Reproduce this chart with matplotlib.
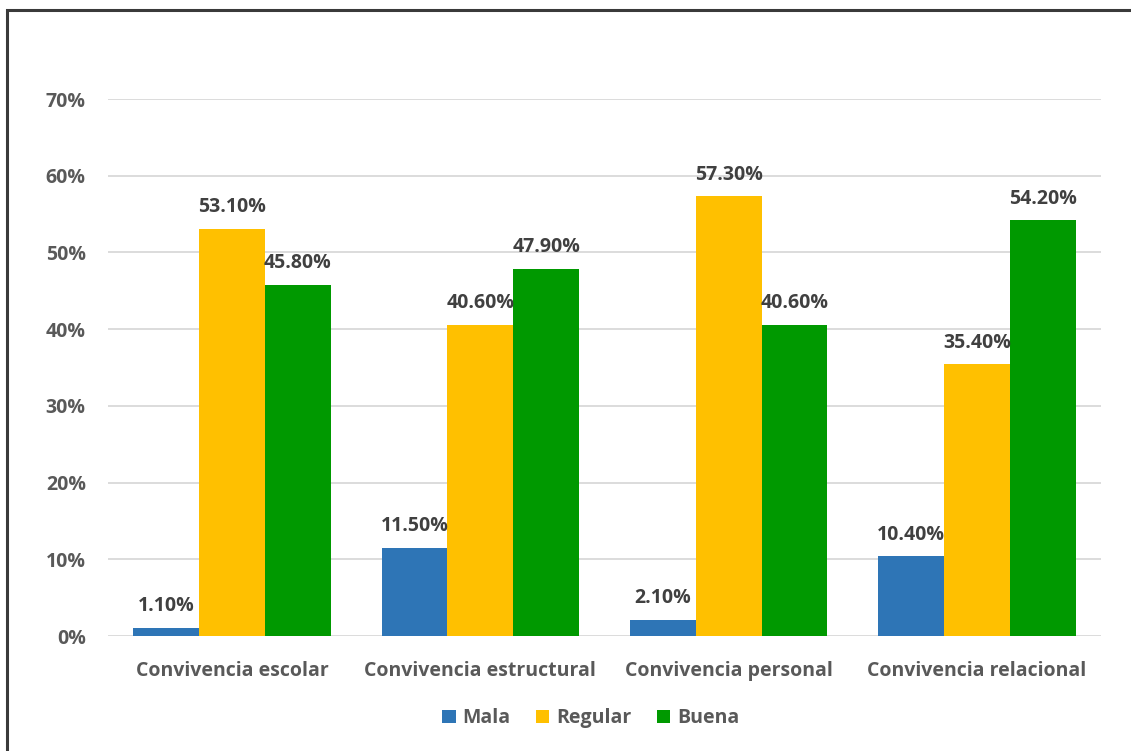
import matplotlib
matplotlib.use("Agg")
import matplotlib.pyplot as plt
import matplotlib.patches as mpatches
from matplotlib.ticker import PercentFormatter
import numpy as np

categories = ["Convivencia escolar", "Convivencia estructural",
              "Convivencia personal", "Convivencia relacional"]
series_names = ["Mala", "Regular", "Buena"]
mala = [1.1, 11.5, 2.1, 10.4]
regular = [53.1, 40.6, 57.3, 35.4]
buena = [45.8, 47.9, 40.6, 54.2]
colors = ["#2E75B6", "#FFC000", "#009900"]

text_color = "#595959"
fsize = 14
plt.rcParams["font.family"] = ["Open Sans", "DejaVu Sans"]
plt.rcParams["font.weight"] = "bold"

fig = plt.figure(figsize=(11.31, 7.51), dpi=100)
ax = fig.add_axes([0.0955, 0.1531, 0.878, 0.715])

# outer chart border (only top and left are visible in the original)
fig.patches.append(mpatches.Rectangle((7 / 1131, -0.1), 1.2, (751 - 10) / 751 + 0.1,
                                      transform=fig.transFigure, fill=False,
                                      edgecolor="#3a3a3a", linewidth=2.2))

x = np.arange(len(categories))
width = 0.265
for i, (vals, name) in enumerate(zip([mala, regular, buena], series_names)):
    bars = ax.bar(x + (i - 1) * width, vals, width, color=colors[i], label=name, zorder=3)
    for b, v in zip(bars, vals):
        ax.text(b.get_x() + b.get_width() / 2, v + 1.5, f"{v:.2f}%",
                ha="center", va="bottom", fontsize=fsize, fontweight="bold",
                color="#404040", zorder=4)

ax.set_xlim(-0.5, len(categories) - 0.5)
ax.set_ylim(0, 70)
ax.set_yticks(range(0, 71, 10))
ax.yaxis.set_major_formatter(PercentFormatter(decimals=0))
ax.set_xticks(x)
ax.set_xticklabels(categories)
ax.grid(axis="y", color="#d9d9d9", linewidth=1.3, zorder=0)
for s in ax.spines.values():
    s.set_visible(False)
ax.tick_params(axis="both", length=0, labelsize=fsize, colors=text_color)
ax.tick_params(axis="y", pad=16)
ax.tick_params(axis="x", pad=18)
for lab in ax.get_xticklabels() + ax.get_yticklabels():
    lab.set_fontweight("bold")

leg = ax.legend(loc="center", bbox_to_anchor=(0.486, -0.153), ncol=3, frameon=False,
                fontsize=fsize, handlelength=0.7, handleheight=0.7, handletextpad=0.35,
                columnspacing=1.3)
for t in leg.get_texts():
    t.set_color(text_color)
    t.set_fontweight("bold")

fig.savefig("out.png", dpi=100)
